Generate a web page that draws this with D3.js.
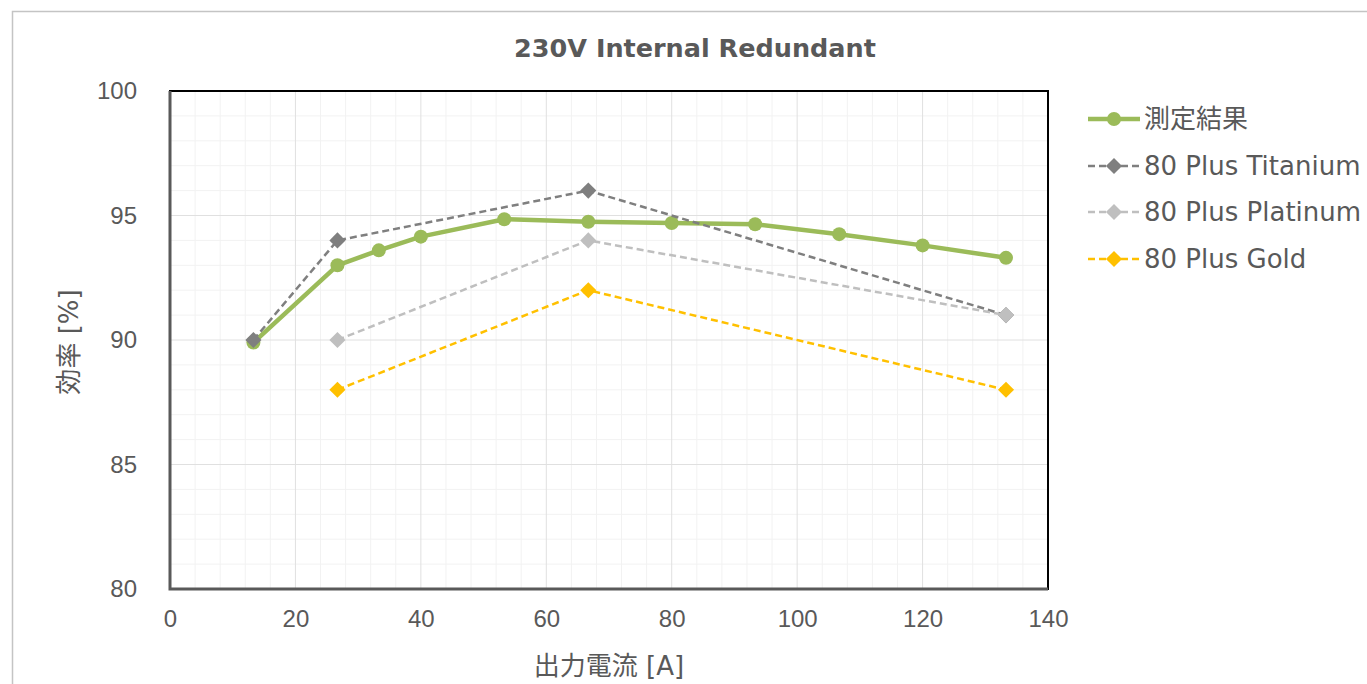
<!DOCTYPE html>
<meta charset="utf-8">
<script src="https://d3js.org/d3.v7.min.js"></script>
<style>
  body { margin: 0; background: #fff; }
  text { font-family: "DejaVu Sans", "Noto Sans CJK JP", sans-serif; }
</style>
<div id="my_dataviz"></div>
<script>
  // data
  var currentA   = [13.3, 26.7, 33.3, 40, 53.3, 66.7, 80, 93.3, 106.7, 120, 133.3];
  var measured   = [89.9, 93.0, 93.6, 94.15, 94.85, 94.75, 94.7, 94.65, 94.25, 93.8, 93.3];
  var titaniumX  = [13.3, 26.7, 66.7, 133.3];
  var titaniumY  = [90, 94, 96, 91];
  var platinumX  = [26.7, 66.7, 133.3];
  var platinumY  = [90, 94, 91];
  var goldX      = [26.7, 66.7, 133.3];
  var goldY      = [88, 92, 88];
  var xTicks = [0, 20, 40, 60, 80, 100, 120, 140];
  var yTicks = [80, 85, 90, 95, 100];
  var seriesNames = ["測定結果", "80 Plus Titanium", "80 Plus Platinum", "80 Plus Gold"];

  var W = 1367, H = 684;
  var margin = {top: 91, left: 170},
      width = 878, height = 498;

  var svg = d3.select("#my_dataviz").append("svg")
      .attr("width", W).attr("height", H);

  // outer chart border
  svg.append("rect")
      .attr("x", 12.5).attr("y", 11.5)
      .attr("width", W).attr("height", H)
      .attr("fill", "none").attr("stroke", "#c4c4c4").attr("stroke-width", 1.5);

  var g = svg.append("g")
      .attr("transform", "translate(" + margin.left + "," + margin.top + ")");

  var x = d3.scaleLinear().domain([0, 140]).range([0, width]);
  var y = d3.scaleLinear().domain([80, 100]).range([height, 0]);

  // minor grid
  g.append("g").selectAll("line")
      .data(d3.range(0, 141, 4).filter(function(d){ return d % 20 != 0; }))
      .enter().append("line")
      .attr("x1", function(d){ return x(d); }).attr("x2", function(d){ return x(d); })
      .attr("y1", 0).attr("y2", height)
      .attr("stroke", "#f2f2f2").attr("stroke-width", 1);
  g.append("g").selectAll("line")
      .data(d3.range(80, 101, 1).filter(function(d){ return d % 5 != 0; }))
      .enter().append("line")
      .attr("y1", function(d){ return y(d); }).attr("y2", function(d){ return y(d); })
      .attr("x1", 0).attr("x2", width)
      .attr("stroke", "#f2f2f2").attr("stroke-width", 1);

  // major grid
  g.append("g").selectAll("line")
      .data(xTicks)
      .enter().append("line")
      .attr("x1", function(d){ return x(d); }).attr("x2", function(d){ return x(d); })
      .attr("y1", 0).attr("y2", height)
      .attr("stroke", "#e0e0e0").attr("stroke-width", 1);
  g.append("g").selectAll("line")
      .data(yTicks)
      .enter().append("line")
      .attr("y1", function(d){ return y(d); }).attr("y2", function(d){ return y(d); })
      .attr("x1", 0).attr("x2", width)
      .attr("stroke", "#e0e0e0").attr("stroke-width", 1);

  // plot frame
  g.append("rect")
      .attr("x", 0).attr("y", 0).attr("width", width).attr("height", height)
      .attr("fill", "none").attr("stroke", "#000").attr("stroke-width", 2);
  g.append("path")
      .attr("d", "M0,0V" + height + "H" + width)
      .attr("fill", "none").attr("stroke", "#595959").attr("stroke-width", 3);

  // axes (labels only)
  var xAxis = g.append("g")
      .attr("transform", "translate(0," + height + ")")
      .call(d3.axisBottom(x).tickValues(xTicks).tickSize(0).tickPadding(21));
  xAxis.select(".domain").remove();
  xAxis.selectAll("text").attr("fill", "#595959").style("font-size", "24px")
      .style("font-family", "'Liberation Sans', Arial, sans-serif");

  var yAxis = g.append("g")
      .call(d3.axisLeft(y).tickValues(yTicks).tickSize(0).tickPadding(33));
  yAxis.select(".domain").remove();
  yAxis.selectAll("text").attr("fill", "#595959").style("font-size", "24px")
      .style("font-family", "'Liberation Sans', Arial, sans-serif");

  var line = d3.line()
      .x(function(d){ return x(d[0]); })
      .y(function(d){ return y(d[1]); });

  var diamond = d3.symbol().type(d3.symbolSquare).size(130);

  // measured series (first series, drawn underneath)
  var mPts = d3.zip(currentA, measured);
  g.append("path").datum(mPts)
      .attr("d", line)
      .attr("fill", "none").attr("stroke", "#9bbb59").attr("stroke-width", 4.5)
      .attr("stroke-linejoin", "round");
  g.append("g").selectAll("circle")
      .data(mPts).enter().append("circle")
      .attr("cx", function(d){ return x(d[0]); })
      .attr("cy", function(d){ return y(d[1]); })
      .attr("r", 7)
      .attr("fill", "#9bbb59");

  function dashedSeries(xs, ys, color) {
    var pts = d3.zip(xs, ys);
    g.append("path").datum(pts)
        .attr("d", line)
        .attr("fill", "none").attr("stroke", color)
        .attr("stroke-width", 2.5).attr("stroke-dasharray", "7,4");
    g.append("g").selectAll("path")
        .data(pts).enter().append("path")
        .attr("d", diamond)
        .attr("transform", function(d){ return "translate(" + x(d[0]) + "," + y(d[1]) + ") rotate(45)"; })
        .attr("fill", color);
  }

  dashedSeries(titaniumX, titaniumY, "#7f7f7f");
  dashedSeries(platinumX, platinumY, "#bfbfbf");
  dashedSeries(goldX, goldY, "#ffc000");

  // title
  svg.append("text")
      .attr("x", 695).attr("y", 57)
      .attr("text-anchor", "middle")
      .attr("fill", "#595959")
      .style("font-size", "25.5px").style("font-weight", "bold")
      .text("230V Internal Redundant");

  // axis titles
  svg.append("text")
      .attr("x", 609).attr("y", 675)
      .attr("text-anchor", "middle")
      .attr("fill", "#595959")
      .style("font-size", "26px")
      .text("出力電流 [A]");
  svg.append("text")
      .attr("transform", "translate(78,342) rotate(-90)")
      .attr("text-anchor", "middle")
      .attr("fill", "#595959")
      .style("font-size", "26px")
      .text("効率 [%]");

  // legend
  var legendColors = ["#9bbb59", "#7f7f7f", "#bfbfbf", "#ffc000"];
  var legend = svg.append("g").attr("transform", "translate(1088,0)");
  var rowY = [119, 166, 212, 259];
  seriesNames.forEach(function(name, i) {
    var row = legend.append("g").attr("transform", "translate(0," + rowY[i] + ")");
    if (i == 0) {
      row.append("line").attr("x1", 0).attr("x2", 52)
          .attr("stroke", legendColors[i]).attr("stroke-width", 4.5);
      row.append("circle").attr("cx", 26).attr("r", 7).attr("fill", legendColors[i]);
    } else {
      row.append("line").attr("x1", 0).attr("x2", 52)
          .attr("stroke", legendColors[i]).attr("stroke-width", 2.5)
          .attr("stroke-dasharray", "7,4");
      row.append("path").attr("d", diamond)
          .attr("transform", "translate(26,0) rotate(45)")
          .attr("fill", legendColors[i]);
    }
    row.append("text")
        .attr("x", 56).attr("y", 0).attr("dy", "0.35em")
        .attr("fill", "#595959")
        .style("font-size", "26px")
        .text(name);
  });
</script>
